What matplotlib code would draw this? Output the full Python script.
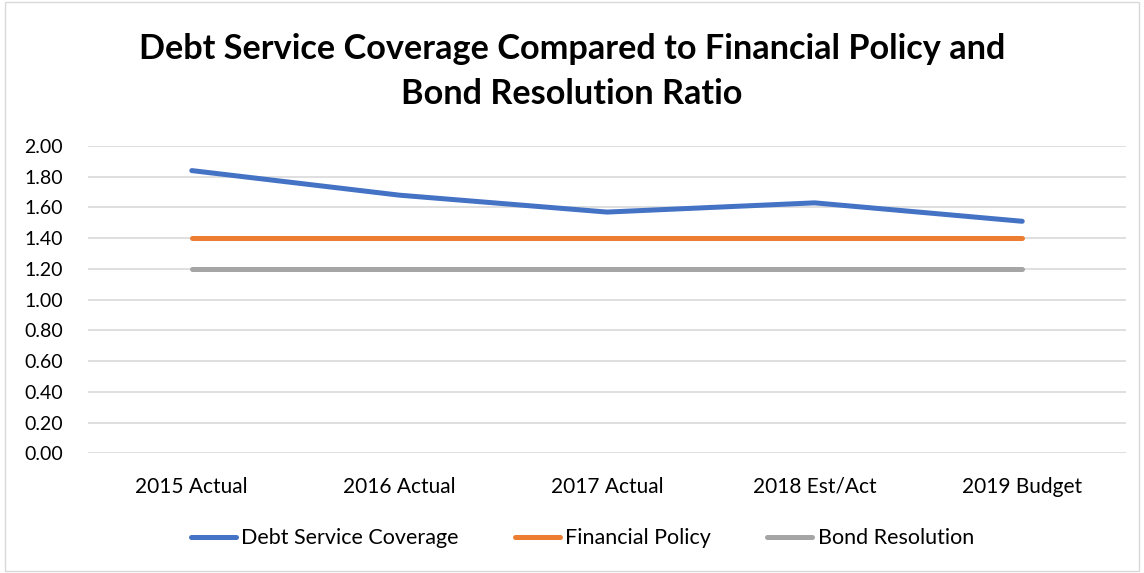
import matplotlib.pyplot as plt
from matplotlib.patches import Rectangle

plt.rcParams['font.family'] = ['Lato', 'DejaVu Sans']

years = ['2015 Actual', '2016 Actual', '2017 Actual', '2018 Est/Act', '2019 Budget']
debt_service_coverage = [1.84, 1.68, 1.57, 1.63, 1.51]
financial_policy = [1.40, 1.40, 1.40, 1.40, 1.40]
bond_resolution = [1.20, 1.20, 1.20, 1.20, 1.20]
y_ticks = [0.0, 0.2, 0.4, 0.6, 0.8, 1.0, 1.2, 1.4, 1.6, 1.8, 2.0]

fig = plt.figure(figsize=(11.44, 5.73), dpi=100)
ax = fig.add_axes([0.0769, 0.2089, 0.9074, 0.5363])

x = range(len(years))
ax.plot(x, debt_service_coverage, color='#4472C4', lw=3.6, solid_capstyle='round',
        solid_joinstyle='round', label='Debt Service Coverage', zorder=3)
ax.plot(x, financial_policy, color='#ED7D31', lw=3.6, solid_capstyle='round',
        label='Financial Policy', zorder=3)
ax.plot(x, bond_resolution, color='#A5A5A5', lw=3.6, solid_capstyle='round',
        label='Bond Resolution', zorder=3)

ax.set_xlim(-0.5, len(years) - 0.5)
ax.set_ylim(0, 2.0)
ax.set_yticks(y_ticks)
ax.set_yticklabels([f'{v:.2f}' for v in y_ticks])
ax.set_xticks(list(x))
ax.set_xticklabels(years)
ax.tick_params(axis='both', length=0, colors='#000000')
ax.tick_params(axis='y', pad=18, labelsize=14)
ax.tick_params(axis='x', pad=17, labelsize=15)
ax.grid(axis='y', color='#D9D9D9', lw=1.2)
ax.set_axisbelow(True)
for s in ax.spines.values():
    s.set_visible(False)

fig.text(0.5, 0.876, 'Debt Service Coverage Compared to Financial Policy and\nBond Resolution Ratio',
         ha='center', va='center', fontsize=24.7, fontweight='bold', linespacing=1.5)

fig.legend(loc='center', bbox_to_anchor=(0.509, 0.061), ncol=3, frameon=False,
           fontsize=15.5, handlelength=2.1, handletextpad=0.25, columnspacing=2.6)

# light border round the whole chart
fig.patches.append(Rectangle((0.004, 0.004), 0.992, 0.992, transform=fig.transFigure,
                             fill=False, edgecolor='#D9D9D9', lw=1))

fig.savefig('out.png', dpi=100)
